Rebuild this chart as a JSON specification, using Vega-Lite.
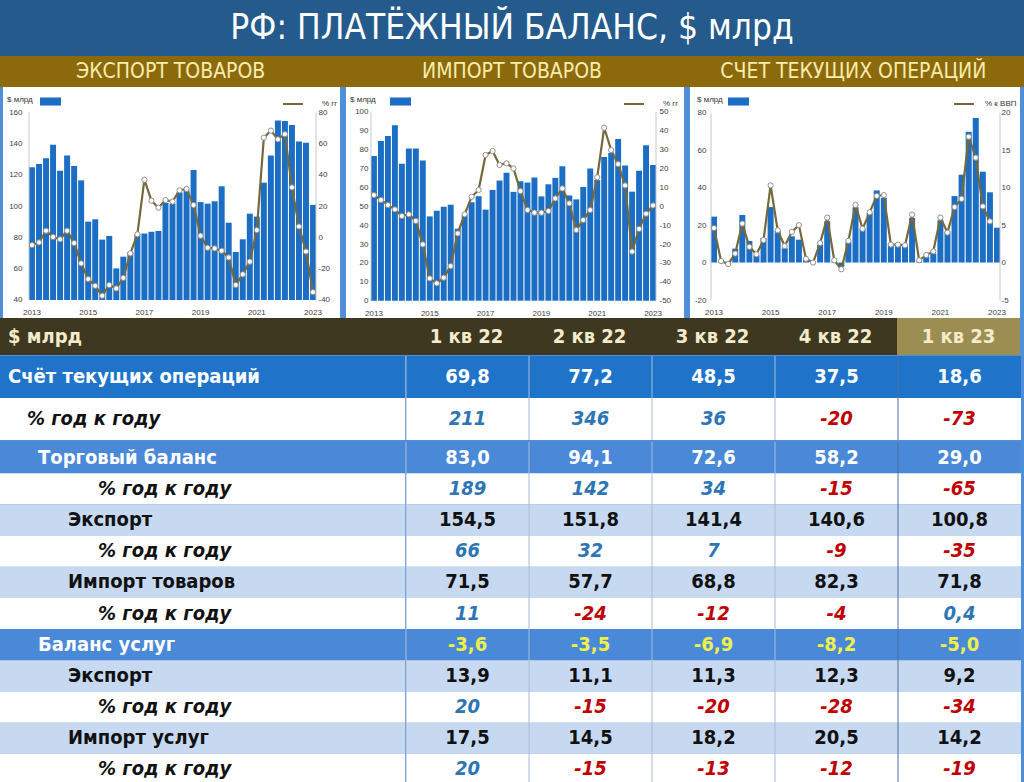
{
"$schema": "https://vega.github.io/schema/vega-lite/v6.json",
"background": "#4F8FD8",
"padding": 0,
"spacing": 0,
"resolve": {"scale": {"color": "independent", "stroke": "independent", "fill": "independent"}, "legend": {"color": "independent", "stroke": "independent", "fill": "independent"}},
"config": {
  "view": {"stroke": null},
  "locale": {"number": {"decimal": ",", "thousands": " ", "grouping": [3], "currency": ["", ""], "minus": "-"}},
  "axis": {"labelFont": "Liberation Sans", "labelFontSize": 8, "labelColor": "#404040", "domain": false, "ticks": false, "tickSize": 0, "grid": false, "labelOverlap": false, "labelFlush": false},
  "legend": {"labelFont": "Liberation Sans", "titleFont": "Liberation Sans"}
},
"datasets": {
  "exp": [
    {"q":"2013Q1","v":124.8,"p":-4.9},{"q":"2013Q2","v":127.0,"p":-3.2},{"q":"2013Q3","v":130.6,"p":4.3},{"q":"2013Q4","v":139.3,"p":0.3},
    {"q":"2014Q1","v":122.7,"p":-1.2},{"q":"2014Q2","v":132.3,"p":4.3},{"q":"2014Q3","v":125.7,"p":-3.6},{"q":"2014Q4","v":116.5,"p":-16.6},
    {"q":"2015Q1","v":90.1,"p":-26.6},{"q":"2015Q2","v":91.6,"p":-30.9},{"q":"2015Q3","v":78.6,"p":-37.3},{"q":"2015Q4","v":80.9,"p":-30.4},
    {"q":"2016Q1","v":60.2,"p":-32.6},{"q":"2016Q2","v":67.7,"p":-25.8},{"q":"2016Q3","v":70.7,"p":-10.2},{"q":"2016Q4","v":82.2,"p":2.0},
    {"q":"2017Q1","v":82.5,"p":36.9},{"q":"2017Q2","v":83.6,"p":23.5},{"q":"2017Q3","v":84.1,"p":19.0},{"q":"2017Q4","v":102.0,"p":23.9},
    {"q":"2018Q1","v":101.6,"p":22.9},{"q":"2018Q2","v":108.8,"p":30.1},{"q":"2018Q3","v":110.0,"p":31.0},{"q":"2018Q4","v":123.1,"p":20.7},
    {"q":"2019Q1","v":102.6,"p":1.1},{"q":"2019Q2","v":101.6,"p":-6.6},{"q":"2019Q3","v":103.1,"p":-7.0},{"q":"2019Q4","v":112.7,"p":-8.5},
    {"q":"2020Q1","v":89.4,"p":-12.8},{"q":"2020Q2","v":70.7,"p":-30.4},{"q":"2020Q3","v":78.8,"p":-23.6},{"q":"2020Q4","v":95.2,"p":-15.5},
    {"q":"2021Q1","v":93.3,"p":4.7},{"q":"2021Q2","v":115.0,"p":63.8},{"q":"2021Q3","v":132.3,"p":68.3},{"q":"2021Q4","v":154.7,"p":62.7},
    {"q":"2022Q1","v":154.5,"p":66},{"q":"2022Q2","v":151.8,"p":32},{"q":"2022Q3","v":141.4,"p":7},{"q":"2022Q4","v":140.6,"p":-9},
    {"q":"2023Q1","v":100.8,"p":-35}
  ],
  "imp": [
    {"q":"2013Q1","v":76.5,"p":5.9},{"q":"2013Q2","v":84.5,"p":3.3},{"q":"2013Q3","v":87.2,"p":0.6},{"q":"2013Q4","v":92.8,"p":-1.7},
    {"q":"2014Q1","v":72.5,"p":-5.2},{"q":"2014Q2","v":80.5,"p":-4.3},{"q":"2014Q3","v":80.5,"p":-7.8},{"q":"2014Q4","v":74.2,"p":-20.2},
    {"q":"2015Q1","v":44.6,"p":-38.2},{"q":"2015Q2","v":47.6,"p":-40.8},{"q":"2015Q3","v":49.7,"p":-37.8},{"q":"2015Q4","v":50.8,"p":-31.7},
    {"q":"2016Q1","v":38.1,"p":-14.4},{"q":"2016Q2","v":45.5,"p":-4.3},{"q":"2016Q3","v":52.1,"p":5.0},{"q":"2016Q4","v":55.3,"p":8.6},
    {"q":"2017Q1","v":48.2,"p":27.1},{"q":"2017Q2","v":58.6,"p":29.2},{"q":"2017Q3","v":63.6,"p":21.8},{"q":"2017Q4","v":67.7,"p":22.7},
    {"q":"2018Q1","v":57.6,"p":20.0},{"q":"2018Q2","v":63.2,"p":8.0},{"q":"2018Q3","v":62.5,"p":-2.0},{"q":"2018Q4","v":65.2,"p":-3.4},
    {"q":"2019Q1","v":55.2,"p":-3.4},{"q":"2019Q2","v":61.6,"p":-2.6},{"q":"2019Q3","v":65.0,"p":4.1},{"q":"2019Q4","v":71.2,"p":9.4},
    {"q":"2020Q1","v":55.7,"p":1.5},{"q":"2020Q2","v":53.6,"p":-12.6},{"q":"2020Q3","v":60.2,"p":-7.3},{"q":"2020Q4","v":70.0,"p":-2.0},
    {"q":"2021Q1","v":63.8,"p":15.3},{"q":"2021Q2","v":76.0,"p":41.5},{"q":"2021Q3","v":78.1,"p":29.7},{"q":"2021Q4","v":85.5,"p":22.3},
    {"q":"2022Q1","v":71.5,"p":11},{"q":"2022Q2","v":57.7,"p":-24},{"q":"2022Q3","v":68.8,"p":-12},{"q":"2022Q4","v":82.3,"p":-4},
    {"q":"2023Q1","v":71.8,"p":0.4}
  ],
  "ca": [
    {"q":"2013Q1","v":24.5,"p":4.6},{"q":"2013Q2","v":0.5,"p":0.2},{"q":"2013Q3","v":-1.0,"p":-0.2},{"q":"2013Q4","v":7.4,"p":1.2},
    {"q":"2014Q1","v":25.4,"p":5.2},{"q":"2014Q2","v":11.5,"p":2.1},{"q":"2014Q3","v":3.8,"p":1.1},{"q":"2014Q4","v":13.0,"p":3.0},
    {"q":"2015Q1","v":29.6,"p":10.3},{"q":"2015Q2","v":17.0,"p":4.3},{"q":"2015Q3","v":7.6,"p":2.2},{"q":"2015Q4","v":14.0,"p":4.1},
    {"q":"2016Q1","v":12.2,"p":5.0},{"q":"2016Q2","v":1.4,"p":0.5},{"q":"2016Q3","v":0.6,"p":0.0},{"q":"2016Q4","v":9.5,"p":2.6},
    {"q":"2017Q1","v":22.0,"p":6.0},{"q":"2017Q2","v":0.5,"p":0.3},{"q":"2017Q3","v":-2.2,"p":-0.9},{"q":"2017Q4","v":10.7,"p":2.9},
    {"q":"2018Q1","v":29.5,"p":7.7},{"q":"2018Q2","v":18.0,"p":4.5},{"q":"2018Q3","v":26.5,"p":6.7},{"q":"2018Q4","v":38.5,"p":8.9},
    {"q":"2019Q1","v":34.5,"p":9.0},{"q":"2019Q2","v":10.2,"p":2.4},{"q":"2019Q3","v":9.3,"p":2.4},{"q":"2019Q4","v":9.3,"p":2.3},
    {"q":"2020Q1","v":23.8,"p":6.4},{"q":"2020Q2","v":0.5,"p":0.3},{"q":"2020Q3","v":2.9,"p":1.0},{"q":"2020Q4","v":4.8,"p":1.5},
    {"q":"2021Q1","v":22.5,"p":6.0},{"q":"2021Q2","v":16.5,"p":4.0},{"q":"2021Q3","v":35.5,"p":7.4},{"q":"2021Q4","v":46.9,"p":8.5},
    {"q":"2022Q1","v":69.8,"p":16.8},{"q":"2022Q2","v":77.2,"p":14.0},{"q":"2022Q3","v":48.5,"p":7.5},{"q":"2022Q4","v":37.5,"p":5.5},
    {"q":"2023Q1","v":18.6,"p":null}
  ],
  "rows": [
    {"r":0,"label":"$ млрд","level":0,"kind":"header"},
    {"r":1,"label":"Счёт текущих операций","level":0,"kind":"total"},
    {"r":2,"label":"% год к году","level":0.63,"kind":"pct"},
    {"r":3,"label":"Торговый баланс","level":1,"kind":"balance"},
    {"r":4,"label":"% год к году","level":3,"kind":"pct"},
    {"r":5,"label":"Экспорт","level":2,"kind":"item"},
    {"r":6,"label":"% год к году","level":3,"kind":"pct"},
    {"r":7,"label":"Импорт товаров","level":2,"kind":"item"},
    {"r":8,"label":"% год к году","level":3,"kind":"pct"},
    {"r":9,"label":"Баланс услуг","level":1,"kind":"balance"},
    {"r":10,"label":"Экспорт","level":2,"kind":"item"},
    {"r":11,"label":"% год к году","level":3,"kind":"pct"},
    {"r":12,"label":"Импорт услуг","level":2,"kind":"item"},
    {"r":13,"label":"% год к году","level":3,"kind":"pct"}
  ],
  "cells": [
    {"r":0,"q":"1 кв 22","v":null},{"r":0,"q":"2 кв 22","v":null},{"r":0,"q":"3 кв 22","v":null},{"r":0,"q":"4 кв 22","v":null},{"r":0,"q":"1 кв 23","v":null},
    {"r":1,"q":"1 кв 22","v":69.8},{"r":1,"q":"2 кв 22","v":77.2},{"r":1,"q":"3 кв 22","v":48.5},{"r":1,"q":"4 кв 22","v":37.5},{"r":1,"q":"1 кв 23","v":18.6},
    {"r":2,"q":"1 кв 22","v":211},{"r":2,"q":"2 кв 22","v":346},{"r":2,"q":"3 кв 22","v":36},{"r":2,"q":"4 кв 22","v":-20},{"r":2,"q":"1 кв 23","v":-73},
    {"r":3,"q":"1 кв 22","v":83.0},{"r":3,"q":"2 кв 22","v":94.1},{"r":3,"q":"3 кв 22","v":72.6},{"r":3,"q":"4 кв 22","v":58.2},{"r":3,"q":"1 кв 23","v":29.0},
    {"r":4,"q":"1 кв 22","v":189},{"r":4,"q":"2 кв 22","v":142},{"r":4,"q":"3 кв 22","v":34},{"r":4,"q":"4 кв 22","v":-15},{"r":4,"q":"1 кв 23","v":-65},
    {"r":5,"q":"1 кв 22","v":154.5},{"r":5,"q":"2 кв 22","v":151.8},{"r":5,"q":"3 кв 22","v":141.4},{"r":5,"q":"4 кв 22","v":140.6},{"r":5,"q":"1 кв 23","v":100.8},
    {"r":6,"q":"1 кв 22","v":66},{"r":6,"q":"2 кв 22","v":32},{"r":6,"q":"3 кв 22","v":7},{"r":6,"q":"4 кв 22","v":-9},{"r":6,"q":"1 кв 23","v":-35},
    {"r":7,"q":"1 кв 22","v":71.5},{"r":7,"q":"2 кв 22","v":57.7},{"r":7,"q":"3 кв 22","v":68.8},{"r":7,"q":"4 кв 22","v":82.3},{"r":7,"q":"1 кв 23","v":71.8},
    {"r":8,"q":"1 кв 22","v":11},{"r":8,"q":"2 кв 22","v":-24},{"r":8,"q":"3 кв 22","v":-12},{"r":8,"q":"4 кв 22","v":-4},{"r":8,"q":"1 кв 23","v":0.4},
    {"r":9,"q":"1 кв 22","v":-3.6},{"r":9,"q":"2 кв 22","v":-3.5},{"r":9,"q":"3 кв 22","v":-6.9},{"r":9,"q":"4 кв 22","v":-8.2},{"r":9,"q":"1 кв 23","v":-5.0},
    {"r":10,"q":"1 кв 22","v":13.9},{"r":10,"q":"2 кв 22","v":11.1},{"r":10,"q":"3 кв 22","v":11.3},{"r":10,"q":"4 кв 22","v":12.3},{"r":10,"q":"1 кв 23","v":9.2},
    {"r":11,"q":"1 кв 22","v":20},{"r":11,"q":"2 кв 22","v":-15},{"r":11,"q":"3 кв 22","v":-20},{"r":11,"q":"4 кв 22","v":-28},{"r":11,"q":"1 кв 23","v":-34},
    {"r":12,"q":"1 кв 22","v":17.5},{"r":12,"q":"2 кв 22","v":14.5},{"r":12,"q":"3 кв 22","v":18.2},{"r":12,"q":"4 кв 22","v":20.5},{"r":12,"q":"1 кв 23","v":14.2},
    {"r":13,"q":"1 кв 22","v":20},{"r":13,"q":"2 кв 22","v":-15},{"r":13,"q":"3 кв 22","v":-13},{"r":13,"q":"4 кв 22","v":-12},{"r":13,"q":"1 кв 23","v":-19}
  ]
},
"vconcat": [
  {
    "width": 1024, "height": 56, "view": {"fill": "#245A8C"},
    "data": {"values": [{"t": "РФ: ПЛАТЁЖНЫЙ БАЛАНС, $ млрд"}]},
    "mark": {"type": "text", "font": "Liberation Sans Narrow, DejaVu Sans Condensed, Liberation Sans, sans-serif", "fontSize": 35, "color": "#FFFFFF"},
    "encoding": {"text": {"field": "t"}}
  },
  {
    "width": 1024, "height": 31, "view": {"fill": "#8C6A0C"},
    "data": {"values": [{"s": "ЭКСПОРТ ТОВАРОВ"}, {"s": "ИМПОРТ ТОВАРОВ"}, {"s": "СЧЕТ ТЕКУЩИХ ОПЕРАЦИЙ"}]},
    "mark": {"type": "text", "font": "Liberation Sans Narrow, DejaVu Sans Condensed, Liberation Sans, sans-serif", "fontSize": 21, "color": "#F8EDAE"},
    "encoding": {"x": {"field": "s", "type": "nominal", "sort": null, "axis": null}, "text": {"field": "s"}}
  },
  {
    "hconcat": [
      {"width": 3, "height": 231, "data": {"values": []}, "mark": "rect", "encoding": {}},
      {
        "width": 337, "height": 231, "view": {"fill": "#FFFFFF"},
        "data": {"name": "exp"},
        "encoding": {"x": {"field": "q", "type": "ordinal", "sort": null, "scale": {"range": [26, 313], "paddingInner": 0.15, "paddingOuter": 0},
          "axis": {"values": ["2013Q1","2015Q1","2017Q1","2019Q1","2021Q1","2023Q1"], "labelExpr": "slice(datum.value, 0, 4)", "offset": -18, "labelPadding": 8, "labelAngle": 0, "labelOverlap": false, "title": null}}},
        "layer": [
          {"layer": [
            {"mark": {"type": "bar"},
             "encoding": {"y": {"field": "v", "type": "quantitative", "scale": {"domain": [28.49, 176.17], "nice": false, "zero": false},
               "axis": {"orient": "left", "values": [40,60,80,100,120,140,160], "offset": -22, "labelPadding": 3, "labelOverlap": false, "title": null}},
               "y2": {"datum": 40},
               "color": {"datum": "$ млрд", "scale": {"range": ["#1B6EC4"]},
                 "legend": {"orient": "none", "legendX": 4, "legendY": 6, "title": "$ млрд", "titleOrient": "left", "titleFontSize": 8, "titleFontWeight": "normal", "titleColor": "#333333", "titlePadding": 9, "labelExpr": "''", "symbolType": "M-1.3,-0.5H1.3V0.5H-1.3Z", "symbolSize": 261, "symbolStrokeWidth": 0, "padding": 0}}}},
            {"transform": [{"filter": "datum.q === '2013Q1'"}], "mark": {"type": "rule", "color": "#C8C8C8"},
             "encoding": {"x": {"field": "q", "type": "ordinal", "bandPosition": 0}, "y": {"datum": 40, "axis": {"orient": "left", "values": [40,60,80,100,120,140,160], "offset": -22, "labelPadding": 3, "labelOverlap": false, "title": null}}, "y2": {"datum": 160}}},
            {"transform": [{"filter": "datum.q === '2023Q1'"}], "mark": {"type": "rule", "color": "#C8C8C8"},
             "encoding": {"x": {"field": "q", "type": "ordinal", "bandPosition": 1}, "y": {"datum": 40, "axis": {"orient": "left", "values": [40,60,80,100,120,140,160], "offset": -22, "labelPadding": 3, "labelOverlap": false, "title": null}}, "y2": {"datum": 160}}}
          ]},
          {"encoding": {"y": {"field": "p", "type": "quantitative", "scale": {"domain": [-51.51, 96.17], "nice": false, "zero": false},
             "axis": {"orient": "right", "values": [-40,-20,0,20,40,60,80], "offset": -25, "labelPadding": 3, "labelOverlap": false, "title": null}}},
           "layer": [
            {"mark": {"type": "line", "strokeWidth": 2.2},
             "encoding": {"stroke": {"datum": "% гг", "scale": {"range": ["#76683A"]},
               "legend": {"orient": "none", "legendX": 279, "legendY": 6, "title": null, "symbolType": "stroke", "symbolSize": 400, "symbolStrokeWidth": 2, "labelOffset": 18, "labelFontSize": 8, "labelColor": "#333333", "padding": 0}}}},
            {"mark": {"type": "point", "filled": true, "fill": "#FFFFFF", "stroke": "#8F8F8F", "strokeWidth": 1, "size": 27, "opacity": 1}}
          ]}
        ],
        "resolve": {"scale": {"y": "independent"}}
      },
      {"width": 6, "height": 231, "data": {"values": []}, "mark": "rect", "encoding": {}},
      {
        "width": 338, "height": 231, "view": {"fill": "#FFFFFF"},
        "data": {"name": "imp"},
        "encoding": {"x": {"field": "q", "type": "ordinal", "sort": null, "scale": {"range": [25, 310], "paddingInner": 0.15, "paddingOuter": 0},
          "axis": {"values": ["2013Q1","2015Q1","2017Q1","2019Q1","2021Q1","2023Q1"], "labelExpr": "slice(datum.value, 0, 4)", "offset": -17, "labelPadding": 8, "labelAngle": 0, "labelOverlap": false, "title": null}}},
        "layer": [
          {"layer": [
            {"mark": {"type": "bar"},
             "encoding": {"y": {"field": "v", "type": "quantitative", "scale": {"domain": [-9.15, 113.07], "nice": false, "zero": false},
               "axis": {"orient": "left", "values": [0,10,20,30,40,50,60,70,80,90,100], "offset": -25, "labelPadding": 3, "labelOverlap": false, "title": null}},
               "y2": {"datum": 0},
               "color": {"datum": "$ млрд", "scale": {"range": ["#1B6EC4"]},
                 "legend": {"orient": "none", "legendX": 4, "legendY": 6, "title": "$ млрд", "titleOrient": "left", "titleFontSize": 8, "titleFontWeight": "normal", "titleColor": "#333333", "titlePadding": 16, "labelExpr": "''", "symbolType": "M-1.3,-0.5H1.3V0.5H-1.3Z", "symbolSize": 261, "symbolStrokeWidth": 0, "padding": 0}}}},
            {"transform": [{"filter": "datum.q === '2013Q1'"}], "mark": {"type": "rule", "color": "#C8C8C8"},
             "encoding": {"x": {"field": "q", "type": "ordinal", "bandPosition": 0}, "y": {"datum": 0, "axis": {"orient": "left", "values": [0,10,20,30,40,50,60,70,80,90,100], "offset": -25, "labelPadding": 3, "labelOverlap": false, "title": null}}, "y2": {"datum": 100}}},
            {"transform": [{"filter": "datum.q === '2023Q1'"}], "mark": {"type": "rule", "color": "#C8C8C8"},
             "encoding": {"x": {"field": "q", "type": "ordinal", "bandPosition": 1}, "y": {"datum": 0, "axis": {"orient": "left", "values": [0,10,20,30,40,50,60,70,80,90,100], "offset": -25, "labelPadding": 3, "labelOverlap": false, "title": null}}, "y2": {"datum": 100}}}
          ]},
          {"encoding": {"y": {"field": "p", "type": "quantitative", "scale": {"domain": [-59.15, 63.07], "nice": false, "zero": false},
             "axis": {"orient": "right", "values": [-50,-40,-30,-20,-10,0,10,20,30,40,50], "offset": -28, "labelPadding": 3, "labelOverlap": false, "title": null}}},
           "layer": [
            {"mark": {"type": "line", "strokeWidth": 2.2},
             "encoding": {"stroke": {"datum": "% гг", "scale": {"range": ["#76683A"]},
               "legend": {"orient": "none", "legendX": 277, "legendY": 6, "title": null, "symbolType": "stroke", "symbolSize": 400, "symbolStrokeWidth": 2, "labelOffset": 18, "labelFontSize": 8, "labelColor": "#333333", "padding": 0}}}},
            {"mark": {"type": "point", "filled": true, "fill": "#FFFFFF", "stroke": "#8F8F8F", "strokeWidth": 1, "size": 27, "opacity": 1}}
          ]}
        ],
        "resolve": {"scale": {"y": "independent"}}
      },
      {"width": 6, "height": 231, "data": {"values": []}, "mark": "rect", "encoding": {}},
      {
        "width": 330, "height": 231, "view": {"fill": "#FFFFFF"},
        "data": {"name": "ca"},
        "encoding": {"x": {"field": "q", "type": "ordinal", "sort": null, "scale": {"range": [21, 310], "paddingInner": 0.15, "paddingOuter": 0},
          "axis": {"values": ["2013Q1","2015Q1","2017Q1","2019Q1","2021Q1","2023Q1"], "labelExpr": "slice(datum.value, 0, 4)", "offset": -18, "labelPadding": 8, "labelAngle": 0, "labelOverlap": false, "title": null}}},
        "layer": [
          {"layer": [
            {"mark": {"type": "bar"},
             "encoding": {"y": {"field": "v", "type": "quantitative", "scale": {"domain": [-29.61, 93.72], "nice": false, "zero": false},
               "axis": {"orient": "left", "values": [-20,0,20,40,60,80], "offset": -19, "labelPadding": 3, "labelOverlap": false, "title": null}},
               "y2": {"datum": 0},
               "color": {"datum": "$ млрд", "scale": {"range": ["#1B6EC4"]},
                 "legend": {"orient": "none", "legendX": 7, "legendY": 6, "title": "$ млрд", "titleOrient": "left", "titleFontSize": 8, "titleFontWeight": "normal", "titleColor": "#333333", "titlePadding": 7, "labelExpr": "''", "symbolType": "M-1.3,-0.5H1.3V0.5H-1.3Z", "symbolSize": 261, "symbolStrokeWidth": 0, "padding": 0}}}},
            {"transform": [{"filter": "datum.q === '2013Q1'"}], "mark": {"type": "rule", "color": "#C8C8C8"},
             "encoding": {"x": {"field": "q", "type": "ordinal", "bandPosition": 0}, "y": {"datum": -20, "axis": {"orient": "left", "values": [-20,0,20,40,60,80], "offset": -19, "labelPadding": 3, "labelOverlap": false, "title": null}}, "y2": {"datum": 80}}},
            {"transform": [{"filter": "datum.q === '2023Q1'"}], "mark": {"type": "rule", "color": "#C8C8C8"},
             "encoding": {"x": {"field": "q", "type": "ordinal", "bandPosition": 1}, "y": {"datum": -20, "axis": {"orient": "left", "values": [-20,0,20,40,60,80], "offset": -19, "labelPadding": 3, "labelOverlap": false, "title": null}}, "y2": {"datum": 80}}}
          ]},
          {"encoding": {"y": {"field": "p", "type": "quantitative", "scale": {"domain": [-7.40, 23.43], "nice": false, "zero": false},
             "axis": {"orient": "right", "values": [-5,0,5,10,15,20], "offset": -22, "labelPadding": 3, "labelOverlap": false, "title": null}}},
           "layer": [
            {"mark": {"type": "line", "strokeWidth": 2.2},
             "encoding": {"stroke": {"datum": "% к ВВП", "scale": {"range": ["#76683A"]},
               "legend": {"orient": "none", "legendX": 263, "legendY": 6, "title": null, "symbolType": "stroke", "symbolSize": 400, "symbolStrokeWidth": 2, "labelOffset": 10, "labelFontSize": 8, "labelColor": "#333333", "padding": 0}}}},
            {"mark": {"type": "point", "filled": true, "fill": "#FFFFFF", "stroke": "#8F8F8F", "strokeWidth": 1, "size": 27, "opacity": 1}}
          ]}
        ],
        "resolve": {"scale": {"y": "independent"}}
      }
    ],
    "spacing": 0,
    "resolve": {"scale": {"color": "independent", "stroke": "independent"}, "legend": {"color": "independent", "stroke": "independent"}}
  },
  {
    "hconcat": [
      {
        "width": 405, "height": 37,
        "data": {"name": "rows"}, "transform": [{"filter": "datum.r === 0"}],
        "layer": [
          {"mark": {"type": "rect", "color": "#3E3820"}, "encoding": {"y": {"field": "r", "type": "ordinal", "axis": null, "scale": {"paddingInner": 0, "paddingOuter": 0}}}},
          {"mark": {"type": "text", "align": "left", "dx": 8, "font": "Liberation Sans Narrow, DejaVu Sans Condensed, Liberation Sans, sans-serif", "fontSize": 20, "fontWeight": "bold", "color": "#F3EBCB"},
           "encoding": {"y": {"field": "r", "type": "ordinal", "axis": null}, "x": {"field": "level", "type": "quantitative", "axis": null, "scale": {"domain": [0, 13.5], "nice": false, "zero": false}}, "text": {"field": "label"}}}
        ]
      },
      {
        "width": 615, "height": 37,
        "data": {"name": "cells"}, "transform": [{"filter": "datum.r === 0"}],
        "encoding": {"x": {"field": "q", "type": "ordinal", "sort": null, "axis": null, "scale": {"domain": ["1 кв 22","2 кв 22","3 кв 22","4 кв 22","1 кв 23"], "paddingInner": 0, "paddingOuter": 0}}},
        "layer": [
          {"mark": {"type": "rect"}, "encoding": {"fill": {"condition": {"test": "datum.q === '1 кв 23'", "value": "#9C8E52"}, "value": "#3E3820"}}},
          {"mark": {"type": "text", "font": "Liberation Sans Narrow, DejaVu Sans Condensed, Liberation Sans, sans-serif", "fontSize": 20, "fontWeight": "bold", "color": "#F3EBCB"},
           "encoding": {"text": {"field": "q"}}}
        ]
      }
    ],
    "spacing": 0
  },
  {
    "hconcat": [
      {
        "width": 405, "height": 84,
        "data": {"name": "rows"}, "transform": [{"filter": "datum.r >= 1 && datum.r <= 2"}],
        "layer": [
          {"mark": {"type": "rect"}, "encoding": {"y": {"field": "r", "type": "ordinal", "axis": null, "scale": {"paddingInner": 0, "paddingOuter": 0}},
            "fill": {"field": "kind", "type": "nominal", "legend": null, "scale": {"domain": ["header","total","pct","balance","item"], "range": ["#3E3820","#1F74CA","#FFFFFF","#4A88D8","#C6D9F1"]}}}},
          {"transform": [{"filter": "datum.kind !== 'pct'"}],
           "mark": {"type": "text", "align": "left", "dx": 8, "font": "Liberation Sans Narrow, DejaVu Sans Condensed, Liberation Sans, sans-serif", "fontSize": 20, "fontWeight": "bold"},
           "encoding": {"y": {"field": "r", "type": "ordinal", "axis": null}, "x": {"field": "level", "type": "quantitative", "axis": null, "scale": {"domain": [0, 13.5], "nice": false, "zero": false}}, "text": {"field": "label"},
             "color": {"condition": [{"test": "datum.kind === 'total' || datum.kind === 'balance'", "value": "#FFFFFF"}], "value": "#111111"}}},
          {"transform": [{"filter": "datum.kind === 'pct'"}],
           "mark": {"type": "text", "align": "left", "dx": 8, "font": "Liberation Sans Narrow, DejaVu Sans Condensed, Liberation Sans, sans-serif", "fontSize": 20, "fontWeight": "bold", "fontStyle": "italic", "color": "#111111"},
           "encoding": {"y": {"field": "r", "type": "ordinal", "axis": null}, "x": {"field": "level", "type": "quantitative", "axis": null}, "text": {"field": "label"}}}
        ]
      },
      {
        "width": 615, "height": 84,
        "data": {"name": "cells"},
        "transform": [{"filter": "datum.r >= 1 && datum.r <= 2"}, {"lookup": "r", "from": {"data": {"name": "rows"}, "key": "r", "fields": ["kind"]}}],
        "layer": [
          {"mark": {"type": "rect"}, "encoding": {
            "x": {"field": "q", "type": "ordinal", "sort": null, "axis": null, "scale": {"domain": ["1 кв 22","2 кв 22","3 кв 22","4 кв 22","1 кв 23"], "paddingInner": 0, "paddingOuter": 0}},
            "y": {"field": "r", "type": "ordinal", "axis": null, "scale": {"paddingInner": 0, "paddingOuter": 0}},
            "fill": {"field": "kind", "type": "nominal", "legend": null, "scale": {"domain": ["header","total","pct","balance","item"], "range": ["#3E3820","#1F74CA","#FFFFFF","#4A88D8","#C6D9F1"]}}}},
          {"transform": [{"filter": "datum.r === 1"}], "mark": {"type": "rule", "strokeWidth": 1},
           "encoding": {"x": {"field": "q", "type": "ordinal", "sort": null, "bandPosition": 0},
             "color": {"condition": {"test": "datum.q === '1 кв 23'", "value": "#4F6F9F"}, "value": "#A9BCD6"}}},
          {"transform": [{"filter": "datum.kind !== 'pct'"}],
           "mark": {"type": "text", "font": "Liberation Sans Narrow, DejaVu Sans Condensed, Liberation Sans, sans-serif", "fontSize": 20, "fontWeight": "bold"},
           "encoding": {"x": {"field": "q", "type": "ordinal", "sort": null}, "y": {"field": "r", "type": "ordinal"}, "text": {"field": "v", "format": ".1f"},
             "color": {"condition": [{"test": "datum.kind === 'balance' && datum.v < 0", "value": "#EEF04A"}, {"test": "datum.kind === 'total' || datum.kind === 'balance'", "value": "#FFFFFF"}], "value": "#111111"}}},
          {"transform": [{"filter": "datum.kind === 'pct'"}],
           "mark": {"type": "text", "font": "Liberation Sans Narrow, DejaVu Sans Condensed, Liberation Sans, sans-serif", "fontSize": 20, "fontWeight": "bold", "fontStyle": "italic"},
           "encoding": {"x": {"field": "q", "type": "ordinal", "sort": null}, "y": {"field": "r", "type": "ordinal"}, "text": {"field": "v", "format": ".1~f"},
             "color": {"condition": {"test": "datum.v < 0", "value": "#C00000"}, "value": "#2E75B6"}}}
        ]
      }
    ],
    "spacing": 0
  },
  {
    "hconcat": [
      {
        "width": 405, "height": 343,
        "data": {"name": "rows"}, "transform": [{"filter": "datum.r >= 3"}],
        "layer": [
          {"mark": {"type": "rect"}, "encoding": {"y": {"field": "r", "type": "ordinal", "axis": null, "scale": {"paddingInner": 0, "paddingOuter": 0}},
            "fill": {"field": "kind", "type": "nominal", "legend": null, "scale": {"domain": ["header","total","pct","balance","item"], "range": ["#3E3820","#1F74CA","#FFFFFF","#4A88D8","#C6D9F1"]}}}},
          {"transform": [{"filter": "datum.kind !== 'pct'"}],
           "mark": {"type": "text", "align": "left", "dx": 8, "font": "Liberation Sans Narrow, DejaVu Sans Condensed, Liberation Sans, sans-serif", "fontSize": 20, "fontWeight": "bold"},
           "encoding": {"y": {"field": "r", "type": "ordinal", "axis": null}, "x": {"field": "level", "type": "quantitative", "axis": null, "scale": {"domain": [0, 13.5], "nice": false, "zero": false}}, "text": {"field": "label"},
             "color": {"condition": [{"test": "datum.kind === 'total' || datum.kind === 'balance'", "value": "#FFFFFF"}], "value": "#111111"}}},
          {"transform": [{"filter": "datum.kind === 'pct'"}],
           "mark": {"type": "text", "align": "left", "dx": 8, "font": "Liberation Sans Narrow, DejaVu Sans Condensed, Liberation Sans, sans-serif", "fontSize": 20, "fontWeight": "bold", "fontStyle": "italic", "color": "#111111"},
           "encoding": {"y": {"field": "r", "type": "ordinal", "axis": null}, "x": {"field": "level", "type": "quantitative", "axis": null}, "text": {"field": "label"}}}
        ]
      },
      {
        "width": 615, "height": 343,
        "data": {"name": "cells"},
        "transform": [{"filter": "datum.r >= 3"}, {"lookup": "r", "from": {"data": {"name": "rows"}, "key": "r", "fields": ["kind"]}}],
        "layer": [
          {"mark": {"type": "rect"}, "encoding": {
            "x": {"field": "q", "type": "ordinal", "sort": null, "axis": null, "scale": {"domain": ["1 кв 22","2 кв 22","3 кв 22","4 кв 22","1 кв 23"], "paddingInner": 0, "paddingOuter": 0}},
            "y": {"field": "r", "type": "ordinal", "axis": null, "scale": {"paddingInner": 0, "paddingOuter": 0}},
            "fill": {"field": "kind", "type": "nominal", "legend": null, "scale": {"domain": ["header","total","pct","balance","item"], "range": ["#3E3820","#1F74CA","#FFFFFF","#4A88D8","#C6D9F1"]}}}},
          {"transform": [{"filter": "datum.r === 3"}], "mark": {"type": "rule", "strokeWidth": 1},
           "encoding": {"x": {"field": "q", "type": "ordinal", "sort": null, "bandPosition": 0},
             "color": {"condition": {"test": "datum.q === '1 кв 23'", "value": "#4F6F9F"}, "value": "#A9BCD6"}}},
          {"transform": [{"filter": "datum.kind !== 'pct'"}],
           "mark": {"type": "text", "font": "Liberation Sans Narrow, DejaVu Sans Condensed, Liberation Sans, sans-serif", "fontSize": 20, "fontWeight": "bold"},
           "encoding": {"x": {"field": "q", "type": "ordinal", "sort": null}, "y": {"field": "r", "type": "ordinal"}, "text": {"field": "v", "format": ".1f"},
             "color": {"condition": [{"test": "datum.kind === 'balance' && datum.v < 0", "value": "#EEF04A"}, {"test": "datum.kind === 'total' || datum.kind === 'balance'", "value": "#FFFFFF"}], "value": "#111111"}}},
          {"transform": [{"filter": "datum.kind === 'pct'"}],
           "mark": {"type": "text", "font": "Liberation Sans Narrow, DejaVu Sans Condensed, Liberation Sans, sans-serif", "fontSize": 20, "fontWeight": "bold", "fontStyle": "italic"},
           "encoding": {"x": {"field": "q", "type": "ordinal", "sort": null}, "y": {"field": "r", "type": "ordinal"}, "text": {"field": "v", "format": ".1~f"},
             "color": {"condition": {"test": "datum.v < 0", "value": "#C00000"}, "value": "#2E75B6"}}}
        ]
      }
    ],
    "spacing": 0
  }
]
}
